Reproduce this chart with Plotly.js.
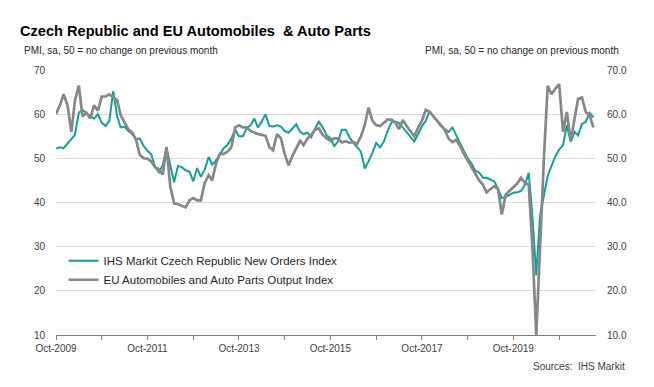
<!DOCTYPE html>
<html>
<head>
<meta charset="utf-8">
<script src="https://cdn.plot.ly/plotly-3.0.1.min.js"></script>
<style>
  html, body { margin: 0; padding: 0; background: #fff; }
  #chart { width: 654px; height: 387px; }
</style>
</head>
<body>
<div id="chart"></div>
<script>
// Monthly data, Oct-2009 .. Jul-2021
const startYear = 2009;
const startMonth = 10;

const czechNewOrders = [
  52.2, 52.5, 52.3, 53.3, 54.5, 55.3, 60.3, 61.0, 60.2, 59.6, 59.0, 60.0,
  58.1, 57.3, 58.5, 65.2, 59.5, 57.0, 57.2, 56.2, 55.5, 54.3, 54.5, 52.8,
  51.7, 50.9, 48.0, 46.8, 48.5, 52.4, 48.5, 44.6, 48.3, 48.0, 47.3, 47.0,
  44.8, 47.8, 45.8, 47.5, 50.3, 48.6, 49.5, 51.0, 52.3, 53.0, 54.5, 56.5,
  55.0, 55.0, 56.8, 57.5, 59.0, 57.0, 58.3, 60.0, 57.3, 57.2, 57.5, 57.2,
  56.2, 55.8, 56.8, 57.7, 56.0, 55.5, 55.8, 54.8, 56.8, 58.3, 57.0, 55.2,
  54.5, 52.8, 53.8, 56.5, 56.5, 54.8, 53.5, 52.5, 51.5, 47.7, 49.3, 51.3,
  53.5, 52.5, 53.8, 56.3, 58.2, 58.3, 58.0, 57.0, 56.0, 55.0, 53.8, 55.5,
  57.3, 58.5, 60.7, 59.5, 58.3, 57.3, 56.6, 56.0, 57.0, 55.3, 53.2, 51.5,
  50.0, 48.8, 47.2, 46.8, 45.6, 45.6, 45.2, 44.8, 43.1, 41.0, 41.3, 41.8,
  42.2, 42.3, 42.6, 44.0, 46.7, 37.0, 23.5, 37.0, 42.0, 46.0, 48.3, 50.5,
  52.0, 53.0, 57.5, 53.8, 56.0, 55.2, 57.8, 58.3, 60.3, 59.3
];

const euAutoOutput = [
  60.0, 62.0, 64.5, 62.0, 56.0, 63.0, 66.5, 59.5, 60.3, 59.0, 62.0, 60.8,
  64.0, 64.0, 64.5, 63.8, 63.2, 59.8, 58.1, 56.6, 55.8, 54.3, 50.8, 50.0,
  49.9, 49.3, 48.0, 47.5, 46.3, 52.6, 43.5, 39.8, 39.6, 39.3, 38.9, 40.5,
  41.0, 40.5, 40.5, 44.5, 46.2, 45.0, 48.8, 51.0, 51.0, 51.5, 52.5, 57.0,
  57.5, 57.0, 57.0, 56.2, 55.8, 55.5, 55.3, 55.1, 52.5, 51.8, 55.5, 54.5,
  51.0, 48.4, 50.5, 52.4, 54.0, 53.0, 54.5, 55.3, 56.5, 56.8, 55.3, 54.5,
  54.0, 54.5, 54.5, 53.6, 53.9, 53.5, 53.7, 53.2, 55.0, 57.5, 61.5, 58.5,
  57.5, 57.3, 58.0, 58.8, 58.7, 58.2, 56.6, 58.7, 57.3, 56.2, 55.0, 57.0,
  58.5, 61.0, 60.5, 59.5, 58.5, 57.5, 56.5, 54.5, 53.7, 54.2, 52.8, 51.0,
  49.5, 48.2, 46.4, 45.0, 44.0, 42.3, 43.0, 43.7, 43.0, 37.3, 41.8, 42.6,
  43.3, 44.3, 45.6, 44.5, 44.0, 30.0, 10.0, 30.0, 50.0, 66.4, 64.5, 65.8,
  66.8, 56.0, 60.5, 54.0, 59.0, 63.5, 63.8, 60.5, 59.8, 57.0
];

const tickDates = ['2009-10-01','2010-10-01','2011-10-01','2012-10-01','2013-10-01','2014-10-01',
                   '2015-10-01','2016-10-01','2017-10-01','2018-10-01','2019-10-01','2020-10-01'];
const tickLabels = ['Oct-2009','','Oct-2011','','Oct-2013','','Oct-2015','','Oct-2017','','Oct-2019',''];

const seriesNames = ['IHS Markit Czech Republic New Orders Index',
                     'EU Automobiles and Auto Parts Output Index'];

// build month dates
const months = czechNewOrders.map((_, i) => {
  const t = (startMonth - 1) + i;
  const y = startYear + Math.floor(t / 12);
  const m = (t % 12) + 1;
  return y + '-' + String(m).padStart(2, '0') + '-01';
});

const FONT = 'Arial, "Liberation Sans", sans-serif';
const TEAL = '#12a098';
const GREY = '#878787';

const traces = [
  { x: months, y: czechNewOrders, type: 'scatter', mode: 'lines', name: seriesNames[0],
    line: { color: TEAL, width: 2 }, yaxis: 'y' },
  { x: months, y: euAutoOutput, type: 'scatter', mode: 'lines', name: seriesNames[1],
    line: { color: GREY, width: 2.7 }, yaxis: 'y2' }
];

const layout = {
  width: 654, height: 387,
  margin: { l: 56, r: 58, t: 70, b: 52 },
  paper_bgcolor: '#ffffff', plot_bgcolor: '#ffffff',
  font: { family: FONT, color: '#404040', size: 10 },
  title: {
    text: '<b>Czech Republic and EU Automobiles  & Auto Parts</b>',
    font: { family: FONT, size: 14.6, color: '#000000' },
    xref: 'container', x: 20 / 654, xanchor: 'left',
    yref: 'container', y: 1 - 31 / 387, yanchor: 'middle'
  },
  showlegend: true,
  legend: {
    x: 0.014, xanchor: 'left', y: 0.335, yanchor: 'top',
    bgcolor: 'rgba(0,0,0,0)', font: { family: FONT, size: 11.5, color: '#262626' },
    traceorder: 'normal', tracegroupgap: 0, itemwidth: 30
  },
  xaxis: {
    type: 'date',
    range: ['2009-10-01', '2021-07-22'],
    tickvals: tickDates, ticktext: tickLabels,
    ticks: 'outside', ticklen: 4, tickcolor: '#7f7f7f', tickwidth: 1,
    showline: true, linecolor: '#7f7f7f', linewidth: 1,
    showgrid: false, zeroline: false,
    tickfont: { family: FONT, size: 10, color: '#404040' },
    fixedrange: true
  },
  yaxis: {
    range: [10, 70], dtick: 10, tick0: 10,
    showgrid: true, gridcolor: '#d9d9d9', gridwidth: 1,
    zeroline: false, showline: false, ticks: '',
    ticklabelstandoff: 10,
    tickfont: { family: FONT, size: 10, color: '#404040' },
    fixedrange: true
  },
  yaxis2: {
    range: [10, 70], dtick: 10, tick0: 10, tickformat: '.1f',
    overlaying: 'y', side: 'right',
    showgrid: false, zeroline: false, showline: false, ticks: '',
    ticklabelstandoff: 10,
    tickfont: { family: FONT, size: 10, color: '#404040' },
    fixedrange: true
  },
  annotations: [
    { text: 'PMI, sa, 50 = no change on previous month', xref: 'paper', yref: 'paper',
      x: (22 - 56) / 540, y: (335 - 50) / 265, xanchor: 'left', yanchor: 'middle',
      showarrow: false, font: { family: FONT, size: 10, color: '#262626' } },
    { text: 'PMI, sa, 50 = no change on previous month', xref: 'paper', yref: 'paper',
      x: (621 - 56) / 540, y: (335 - 50) / 265, xanchor: 'right', yanchor: 'middle',
      showarrow: false, font: { family: FONT, size: 10, color: '#262626' } },
    { text: 'Sources:  IHS Markit', xref: 'paper', yref: 'paper',
      x: (627 - 56) / 540, y: (335 - 366) / 265, xanchor: 'right', yanchor: 'middle',
      showarrow: false, font: { family: FONT, size: 10, color: '#404040' } }
  ]
};

Plotly.newPlot('chart', traces, layout, { staticPlot: true, displayModeBar: false });
</script>
</body>
</html>
